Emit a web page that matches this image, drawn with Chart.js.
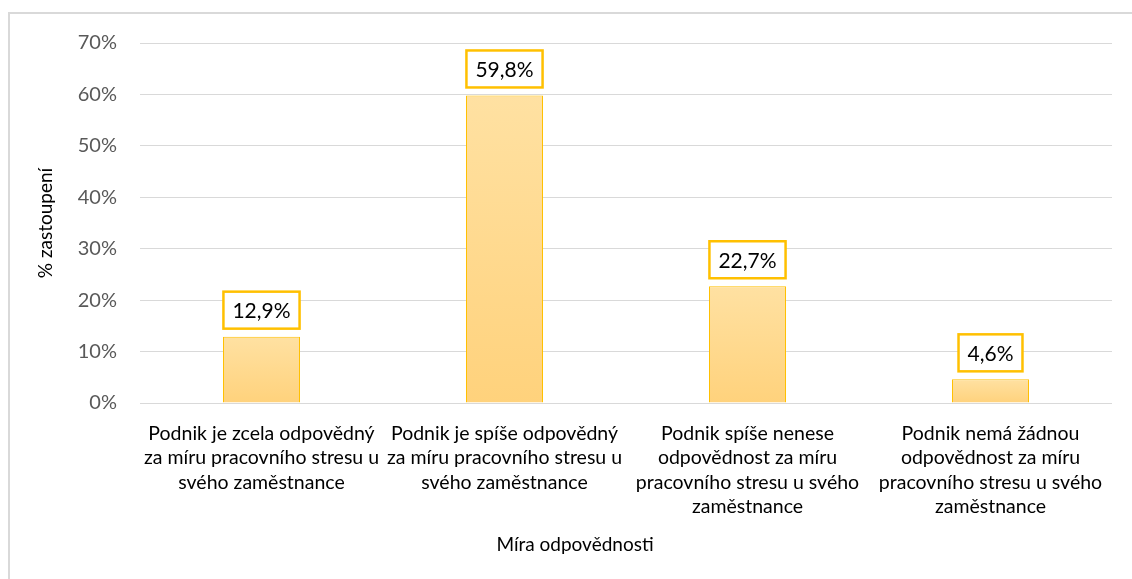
<!DOCTYPE html>
<html>
<head>
<meta charset="utf-8">
<script src="https://cdn.jsdelivr.net/npm/chart.js@4"></script>
<style>
  html, body { margin: 0; padding: 0; background: #fff; overflow: hidden; }
  #wrap { position: relative; width: 1132px; height: 579px; }
  #frame { position: absolute; left: 8px; top: 12px; width: 1200px; height: 700px;
           border-left: 2px solid #d9d9d9; border-top: 2px solid #d9d9d9; }
  canvas { position: absolute; left: 0; top: 0; }
</style>
</head>
<body>
<div id="wrap">
  <div id="frame"></div>
  <canvas id="chart" width="1132" height="579"></canvas>
</div>
<script>
// categories (already wrapped the way the picture shows them)
const categories = [
    ['Podnik je zcela odpovědný', 'za míru pracovního stresu u', 'svého zaměstnance'],
    ['Podnik je spíše odpovědný', 'za míru pracovního stresu u', 'svého zaměstnance'],
    ['Podnik spíše nenese', 'odpovědnost za míru', 'pracovního stresu u svého', 'zaměstnance'],
    ['Podnik nemá žádnou', 'odpovědnost za míru', 'pracovního stresu u svého', 'zaměstnance']
];
const shares = [12.9, 59.8, 22.7, 4.6];
const yTicks = [0, 10, 20, 30, 40, 50, 60, 70];
const xTitle = 'Míra odpovědnosti';
const yTitle = '% zastoupení';

const FONT = 'Lato, "Open Sans", sans-serif';

// boxed value labels above each bar
const valueBoxes = {
    id: 'valueBoxes',
    afterDatasetsDraw(chart) {
        const ctx = chart.ctx;
        const meta = chart.getDatasetMeta(0);
        ctx.save();
        ctx.font = '21px ' + FONT;
        ctx.textAlign = 'center';
        ctx.textBaseline = 'middle';
        meta.data.forEach((bar, i) => {
            const txt = shares[i].toFixed(1).replace('.', ',') + '%';
            const w = ctx.measureText(txt).width + 18;
            const h = 37;
            const bottom = bar.y - 8;
            ctx.fillStyle = '#ffffff';
            ctx.fillRect(bar.x - w / 2, bottom - h, w, h);
            ctx.strokeStyle = '#FFC000';
            ctx.lineWidth = 2.5;
            ctx.strokeRect(bar.x - w / 2, bottom - h, w, h);
            ctx.fillStyle = '#000000';
            ctx.fillText(txt, bar.x, bottom - h / 2 + 1);
        });
        ctx.restore();
    }
};

// x axis title, placed like in the original (centred under the whole chart box)
const xAxisTitle = {
    id: 'xAxisTitle',
    afterDraw(chart) {
        const ctx = chart.ctx;
        ctx.save();
        ctx.font = '19px ' + FONT;
        ctx.fillStyle = '#000000';
        ctx.textAlign = 'center';
        ctx.textBaseline = 'middle';
        ctx.fillText(xTitle, 575, 545);
        ctx.restore();
    }
};

function barFill(context) {
    const chart = context.chart;
    const y = chart.scales.y;
    if (!y || !context.parsed) return '#FFD88A';
    const top = y.getPixelForValue(context.parsed.y);
    const base = y.getPixelForValue(0);
    if (!isFinite(top) || !isFinite(base) || top === base) return '#FFD88A';
    const g = chart.ctx.createLinearGradient(0, top, 0, base);
    g.addColorStop(0, '#FFE1A2');
    g.addColorStop(1, '#FFD27C');
    return g;
}

const ctx = document.getElementById('chart').getContext('2d');
new Chart(ctx, {
    type: 'bar',
    data: {
        labels: categories,
        datasets: [{
            data: shares,
            backgroundColor: barFill,
            borderColor: '#FFC000',
            borderWidth: 1,
            barPercentage: 0.317,
            categoryPercentage: 1
        }]
    },
    options: {
        responsive: false,
        animation: false,
        layout: { padding: { left: 0, top: 43, right: 20, bottom: 0 } },
        plugins: {
            legend: { display: false },
            tooltip: { enabled: false }
        },
        scales: {
            x: {
                grid: { display: false },
                border: { display: false },
                ticks: {
                    color: '#000000',
                    font: { family: FONT, size: 19.5, lineHeight: 1.26 },
                    padding: 10,
                    maxRotation: 0,
                    autoSkip: false
                },
                afterFit(scale) { scale.height = 176; }
            },
            y: {
                min: 0,
                max: 70,
                afterBuildTicks(scale) { scale.ticks = yTicks.map(v => ({ value: v })); },
                grid: { color: '#d9d9d9', lineWidth: 1, drawTicks: false },
                border: { display: false },
                ticks: {
                    color: '#595959',
                    font: { family: FONT, size: 20 },
                    padding: 23,
                    callback: v => v + '%'
                },
                title: {
                    display: true,
                    text: yTitle,
                    color: '#000000',
                    font: { family: FONT, size: 19, lineHeight: 1.2 },
                    padding: { top: 34, bottom: 0 }
                },
                afterFit(scale) { scale.width = 140; }
            }
        }
    },
    plugins: [valueBoxes, xAxisTitle]
});
</script>
</body>
</html>
